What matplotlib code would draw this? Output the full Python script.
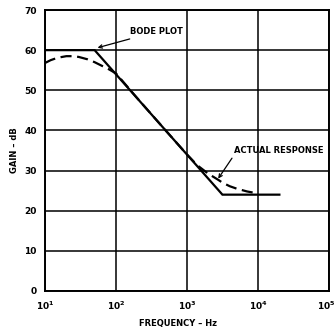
import numpy as np
import matplotlib.pyplot as plt
import matplotlib.transforms as mtransforms

# Bode plot (straight-line approximation)
bode_freq = [10, 50, 3155, 20000]
bode_gain = [60, 60, 24, 24]

# actual response (dashed)
actual_freq = [10, 12, 15, 20, 25, 30, 40, 50, 60, 80, 100, 200, 500, 1000, 1400,
               2000, 2750, 3150, 4000, 5000, 7000, 10000]
actual_gain = [56.8, 57.5, 58.1, 58.5, 58.5, 58.3, 57.7, 57.0, 56.3, 55.2, 54.2,
               48.0, 40.0, 34.0, 31.3, 29.2, 27.7, 27.0, 26.1, 25.5, 24.8, 24.3]

yticks = [0, 10, 20, 30, 40, 50, 60, 70]
xticks = [1e1, 1e2, 1e3, 1e4, 1e5]
xticklabels = ['$\\mathbf{10^1}$', '$\\mathbf{10^2}$', '$\\mathbf{10^3}$',
               '$\\mathbf{10^4}$', '$\\mathbf{10^5}$']

plt.rcParams['font.family'] = ['DejaVu Sans']
plt.rcParams['mathtext.fontset'] = 'dejavusans'

fig = plt.figure(figsize=(3.36, 3.30), dpi=100)
ax = fig.add_axes([45 / 336, 39 / 330, 284 / 336, 281 / 330])

ax.set_xscale('log')
ax.set_xlim(10, 1e5)
ax.set_ylim(0, 70)

ax.plot(bode_freq, bode_gain, color='black', lw=1.6, solid_joinstyle='miter')
ax.plot(actual_freq, actual_gain, color='black', lw=1.6, dashes=(5, 2.5))

ax.set_xticks(xticks)
ax.set_xticklabels(xticklabels)
ax.set_yticks(yticks)
ax.minorticks_off()
ax.tick_params(length=0, labelsize=6.5, pad=6)
for lab in ax.get_yticklabels():
    lab.set_fontweight('bold')
# keep the last label inside the figure
last = ax.get_xticklabels()[-1]
last.set_horizontalalignment('right')
last.set_transform(last.get_transform() +
                   mtransforms.ScaledTranslation(7 / 100, 0, fig.dpi_scale_trans))
ax.grid(True, color='black', lw=1.1)
for s in ax.spines.values():
    s.set_linewidth(1.4)

ax.set_xlabel('FREQUENCY – Hz', fontsize=6, fontweight='bold', labelpad=6)
ax.set_ylabel('GAIN – dB', fontsize=6, fontweight='bold', labelpad=4)
ax.xaxis.set_label_coords(0.47, -0.1)

ax.annotate('BODE PLOT', xy=(55, 60.6), xytext=(157, 64.6),
            fontsize=6, fontweight='bold', va='center', ha='left',
            arrowprops=dict(arrowstyle='->', color='black', lw=0.9,
                            shrinkA=0, shrinkB=0))
ax.annotate('ACTUAL RESPONSE', xy=(2750, 28.0), xytext=(4570, 34.9),
            fontsize=6, fontweight='bold', va='center', ha='left',
            arrowprops=dict(arrowstyle='->', color='black', lw=0.9,
                            shrinkA=0, shrinkB=0,
                            relpos=(0, 0)))

fig.savefig('out.png', dpi=100)
